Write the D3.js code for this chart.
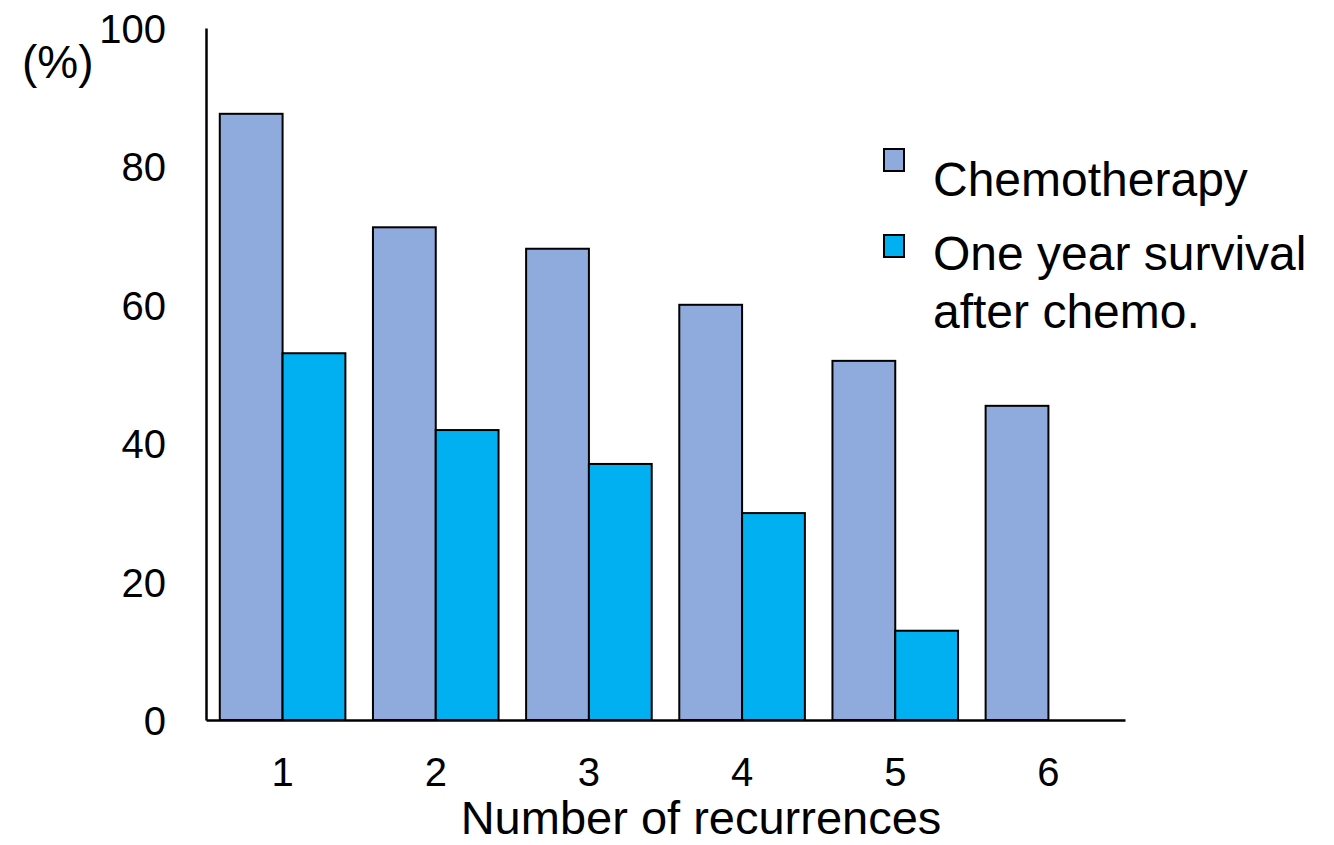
<!DOCTYPE html>
<html>
<head>
<meta charset="utf-8">
<script src="https://cdn.jsdelivr.net/npm/d3@7"></script>
<style>
  body { margin: 0; background: #fff; }
  svg text { font-family: "Liberation Sans", Arial, sans-serif; fill: #000; }
</style>
</head>
<body>
<div id="chart"></div>
<script>
var categories = ["1", "2", "3", "4", "5", "6"];
var seriesNames = ["Chemotherapy", "One year survival after chemo."];
var chemo = [87.6, 71.2, 68.1, 60.0, 51.9, 45.4];
var survival = [53.0, 41.9, 37.0, 29.9, 12.9, null];
var yTicks = [0, 20, 40, 60, 80, 100];
var colors = ["#8FAADC", "#00B0F0"];

var width = 1334, height = 845,
    margin = {top: 28, right: 209, bottom: 125, left: 206};

var svg = d3.select("#chart").append("svg")
    .attr("width", width).attr("height", height);

var x = d3.scaleBand()
    .domain(categories)
    .range([margin.left, width - margin.right])
    .paddingInner(0.18)
    .paddingOuter(0.09);

var xSub = d3.scaleBand()
    .domain([0, 1])
    .range([0, x.bandwidth()]);

var y = d3.scaleLinear()
    .domain([0, 100])
    .range([height - margin.bottom, margin.top]);

// bars
var series = [chemo, survival];
series.forEach(function(vals, s) {
  svg.append("g").selectAll("rect")
    .data(vals.map(function(v, i) { return {cat: categories[i], value: v}; })
      .filter(function(d) { return d.value != null; }))
    .enter().append("rect")
      .attr("x", function(d) { return x(d.cat) + xSub(s); })
      .attr("y", function(d) { return y(d.value); })
      .attr("width", xSub.bandwidth())
      .attr("height", function(d) { return y(0) - y(d.value); })
      .attr("fill", colors[s])
      .attr("stroke", "#000")
      .attr("stroke-width", 2);
});

// y axis
var yAxis = svg.append("g")
    .attr("transform", "translate(" + margin.left + ",0)")
    .call(d3.axisLeft(y).tickValues(yTicks).tickSize(0).tickPadding(40));
yAxis.select(".domain").attr("stroke", "#000").attr("stroke-width", 2.5);
yAxis.selectAll("text")
    .attr("font-size", "40px")
    .attr("dy", "0.36em")
    .attr("font-family", "Liberation Sans, Arial, sans-serif");

// x axis
var xAxis = svg.append("g")
    .attr("transform", "translate(0," + y(0) + ")")
    .call(d3.axisBottom(x).tickSize(0).tickPadding(38));
xAxis.select(".domain").attr("stroke", "#000").attr("stroke-width", 2.5);
xAxis.selectAll("text")
    .attr("font-size", "40px")
    .attr("font-family", "Liberation Sans, Arial, sans-serif");

svg.append("text")
    .attr("x", 701)
    .attr("y", 834)
    .attr("text-anchor", "middle")
    .attr("font-size", "47px")
    .text("Number of recurrences");

svg.append("text")
    .attr("x", 22)
    .attr("y", 78)
    .attr("font-size", "46px")
    .text("(%)");

// legend
var legend = svg.append("g").attr("transform", "translate(884,0)");
legend.append("rect")
    .attr("x", 0).attr("y", 149).attr("width", 20).attr("height", 22)
    .attr("fill", colors[0]).attr("stroke", "#000").attr("stroke-width", 2);
legend.append("text")
    .attr("x", 49).attr("y", 196)
    .attr("font-size", "48px")
    .text(seriesNames[0]);
legend.append("rect")
    .attr("x", 0).attr("y", 235).attr("width", 20).attr("height", 22)
    .attr("fill", colors[1]).attr("stroke", "#000").attr("stroke-width", 2);
legend.append("text")
    .attr("x", 49).attr("y", 270)
    .attr("font-size", "48px")
    .text("One year survival");
legend.append("text")
    .attr("x", 49).attr("y", 328)
    .attr("font-size", "48px")
    .text("after chemo.");
</script>
</body>
</html>
